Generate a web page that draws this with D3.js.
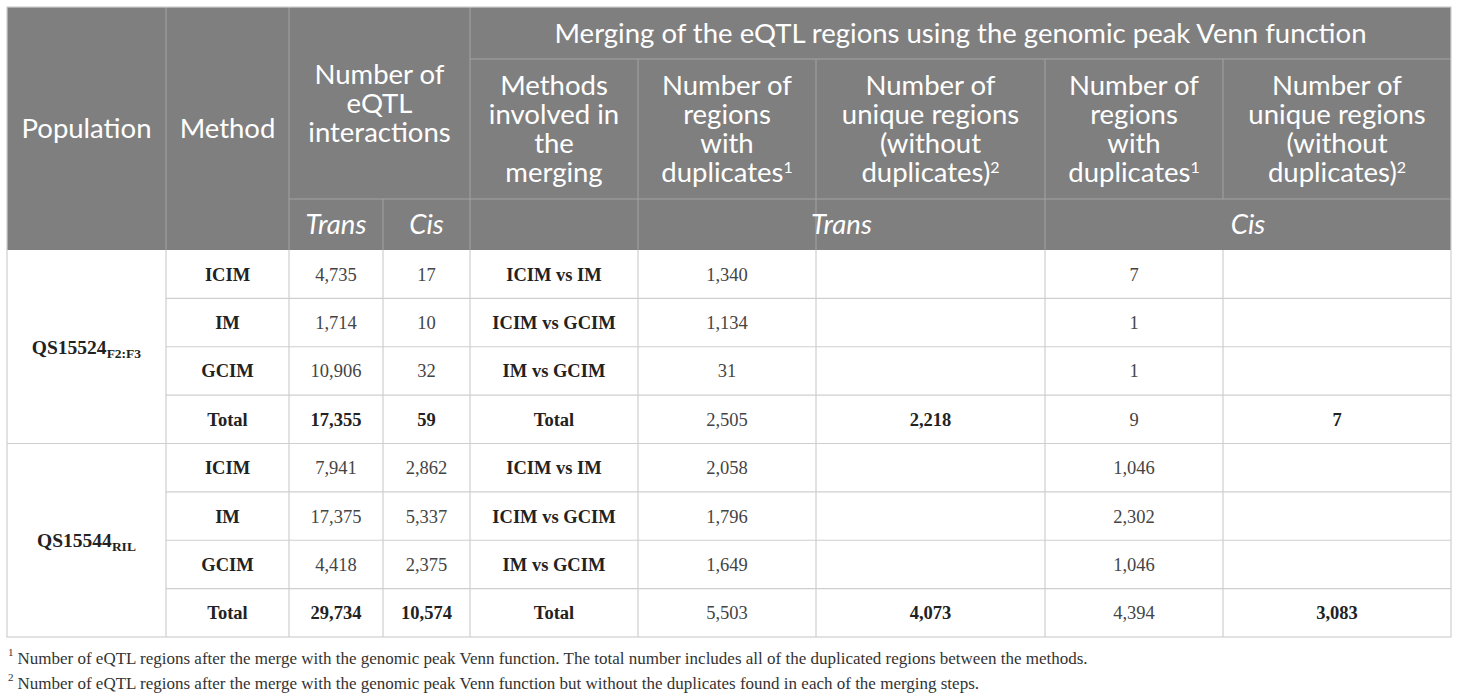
<!DOCTYPE html>
<html>
<head>
<meta charset="utf-8">
<script src="https://cdn.jsdelivr.net/npm/d3@7"></script>
<style>
  body { margin: 0; background: #fff; }
  svg { display: block; }
</style>
</head>
<body>
<div id="table"></div>
<script>
// table values
const populations = [
    { name: "QS15524", sub: "F2:F3" },
    { name: "QS15544", sub: "RIL" }
];
const methods = ["ICIM", "IM", "GCIM", "Total"];
const transCounts = [["4,735", "1,714", "10,906", "17,355"], ["7,941", "17,375", "4,418", "29,734"]];
const cisCounts = [["17", "10", "32", "59"], ["2,862", "5,337", "2,375", "10,574"]];
const mergePairs = ["ICIM vs IM", "ICIM vs GCIM", "IM vs GCIM", "Total"];
const transDuplicates = [["1,340", "1,134", "31", "2,505"], ["2,058", "1,796", "1,649", "5,503"]];
const transUnique = [["", "", "", "2,218"], ["", "", "", "4,073"]];
const cisDuplicates = [["7", "1", "1", "9"], ["1,046", "2,302", "1,046", "4,394"]];
const cisUnique = [["", "", "", "7"], ["", "", "", "3,083"]];
const footnotes = [
    "Number of eQTL regions after the merge with the genomic peak Venn function. The total number includes all of the duplicated regions between the methods.",
    "Number of eQTL regions after the merge with the genomic peak Venn function but without the duplicates found in each of the merging steps."
];

// layout
const colEdges = [7, 166, 289, 383, 470, 638, 816, 1045, 1223, 1451];
const headTop = 7, headRow1 = 59, headRow2 = 199, headBottom = 250, tableBottom = 637;
const headFill = "#7f7f7f", headLine = "#a4a4a4", bodyLine = "#cfcfcf";
const headFont = "Lato, 'Open Sans', sans-serif";
const bodyFont = "'Liberation Serif', 'DejaVu Serif', serif";

const svg = d3.select("#table").append("svg")
    .attr("width", 1460)
    .attr("height", 699);

const col = i => colEdges[i];
const colMid = (a, b) => (colEdges[a] + colEdges[b]) / 2;

// body rows: 2 populations x 4 rows
const rowKeys = d3.range(8);
const y = d3.scaleBand()
    .domain(rowKeys)
    .range([headBottom, tableBottom]);

// header block
svg.append("rect")
    .attr("x", col(0)).attr("y", headTop)
    .attr("width", col(9) - col(0)).attr("height", headBottom - headTop)
    .attr("fill", headFill);

const hLines = [
    [col(4), col(9), headRow1],
    [col(4), col(9), headRow2],
    [col(2), col(4), headRow2]
];
svg.selectAll(".hline").data(hLines).join("line")
    .attr("x1", d => d[0]).attr("x2", d => d[1])
    .attr("y1", d => d[2]).attr("y2", d => d[2])
    .attr("stroke", headLine).attr("stroke-width", 1);

const vLines = [
    [1, headTop, headBottom], [2, headTop, headBottom], [3, headRow2, headBottom],
    [4, headTop, headBottom], [5, headRow1, headBottom], [6, headRow1, headBottom],
    [7, headRow1, headBottom], [8, headRow1, headRow2]
];
svg.selectAll(".vline").data(vLines).join("line")
    .attr("x1", d => col(d[0])).attr("x2", d => col(d[0]))
    .attr("y1", d => d[1]).attr("y2", d => d[2])
    .attr("stroke", headLine).attr("stroke-width", 1);

// header texts
const lh = 29;
const headerCells = [
    { lines: ["Population"], cx: colMid(0, 1), cy: (headTop + headBottom) / 2 },
    { lines: ["Method"], cx: colMid(1, 2), cy: (headTop + headBottom) / 2 },
    { lines: ["Number of", "eQTL", "interactions"], cx: colMid(2, 4), cy: (headTop + headRow2) / 2 },
    { lines: ["Trans"], cx: colMid(2, 3), cy: (headRow2 + headBottom) / 2, italic: true },
    { lines: ["Cis"], cx: colMid(3, 4), cy: (headRow2 + headBottom) / 2, italic: true },
    { lines: ["Merging of the eQTL regions using the genomic peak Venn function"], cx: colMid(4, 9), cy: (headTop + headRow1) / 2 },
    { lines: ["Methods", "involved in", "the", "merging"], cx: colMid(4, 5), cy: (headRow1 + headRow2) / 2 },
    { lines: ["Number of", "regions", "with", "duplicates|1"], cx: colMid(5, 6), cy: (headRow1 + headRow2) / 2 },
    { lines: ["Number of", "unique regions", "(without", "duplicates)|2"], cx: colMid(6, 7), cy: (headRow1 + headRow2) / 2 },
    { lines: ["Number of", "regions", "with", "duplicates|1"], cx: colMid(7, 8), cy: (headRow1 + headRow2) / 2 },
    { lines: ["Number of", "unique regions", "(without", "duplicates)|2"], cx: colMid(8, 9), cy: (headRow1 + headRow2) / 2 },
    { lines: ["Trans"], cx: colMid(5, 7), cy: (headRow2 + headBottom) / 2, italic: true },
    { lines: ["Cis"], cx: colMid(7, 9), cy: (headRow2 + headBottom) / 2, italic: true }
];

headerCells.forEach(cell => {
    const n = cell.lines.length;
    cell.lines.forEach((ln, i) => {
        const [main, sup] = ln.split("|");
        const t = svg.append("text")
            .attr("x", cell.cx)
            .attr("y", cell.cy + (i - (n - 1) / 2) * lh)
            .attr("dy", "0.35em")
            .attr("text-anchor", "middle")
            .style("font-family", headFont)
            .style("font-size", "27.5px")
            .style("font-style", cell.italic ? "italic" : "normal")
            .attr("fill", "#fff")
            .text(main);
        if (sup) {
            t.append("tspan")
                .attr("dy", "-0.55em")
                .style("font-size", "16px")
                .text(sup);
        }
    });
});

// body grid
svg.selectAll(".rowline").data(rowKeys.slice(1)).join("line")
    .attr("x1", d => d % 4 === 0 ? col(0) : col(1))
    .attr("x2", col(9))
    .attr("y1", d => y(d)).attr("y2", d => y(d))
    .attr("stroke", bodyLine).attr("stroke-width", 1.2);

svg.selectAll(".colline").data(d3.range(1, 9)).join("line")
    .attr("x1", d => col(d)).attr("x2", d => col(d))
    .attr("y1", headBottom).attr("y2", tableBottom)
    .attr("stroke", bodyLine).attr("stroke-width", 1.2);

svg.append("rect")
    .attr("x", col(0)).attr("y", headTop)
    .attr("width", col(9) - col(0)).attr("height", tableBottom - headTop)
    .attr("fill", "none")
    .attr("stroke", bodyLine).attr("stroke-width", 1.2);

// population labels spanning 4 rows
const pop = svg.selectAll(".pop").data(populations).join("text")
    .attr("x", colMid(0, 1))
    .attr("y", (d, i) => y(i * 4) + y.bandwidth() * 2)
    .attr("dy", "0.35em")
    .attr("text-anchor", "middle")
    .style("font-family", bodyFont)
    .style("font-size", "19.5px")
    .style("font-weight", "bold")
    .attr("fill", "#222");
pop.append("tspan").text(d => d.name);
pop.append("tspan")
    .attr("dy", "0.3em")
    .style("font-size", "13.5px")
    .text(d => d.sub);

// body cells
const cells = [];
populations.forEach((p, pi) => {
    methods.forEach((m, ri) => {
        const r = pi * 4 + ri;
        const total = ri === 3;
        cells.push({ r, c: 1, v: m, bold: true });
        cells.push({ r, c: 2, v: transCounts[pi][ri], bold: total });
        cells.push({ r, c: 3, v: cisCounts[pi][ri], bold: total });
        cells.push({ r, c: 4, v: mergePairs[ri], bold: true });
        cells.push({ r, c: 5, v: transDuplicates[pi][ri], bold: false });
        cells.push({ r, c: 6, v: transUnique[pi][ri], bold: true });
        cells.push({ r, c: 7, v: cisDuplicates[pi][ri], bold: false });
        cells.push({ r, c: 8, v: cisUnique[pi][ri], bold: true });
    });
});

svg.selectAll(".cell").data(cells.filter(d => d.v !== "")).join("text")
    .attr("x", d => colMid(d.c, d.c + 1))
    .attr("y", d => y(d.r) + y.bandwidth() / 2)
    .attr("dy", "0.35em")
    .attr("text-anchor", "middle")
    .style("font-family", bodyFont)
    .style("font-size", "18.5px")
    .style("font-weight", d => d.bold ? "bold" : "normal")
    .attr("fill", d => d.bold ? "#222" : "#444")
    .text(d => d.v);

// footnotes
const fn = svg.selectAll(".fn").data(footnotes).join("text")
    .attr("x", 8)
    .attr("y", (d, i) => 661 + i * 25)
    .style("font-family", bodyFont)
    .style("font-size", "17px")
    .attr("fill", "#333");
fn.append("tspan")
    .attr("dy", "-0.45em")
    .style("font-size", "11px")
    .text((d, i) => i + 1);
fn.append("tspan")
    .attr("dy", "0.45em")
    .attr("dx", 4)
    .text(d => d);
</script>
</body>
</html>
